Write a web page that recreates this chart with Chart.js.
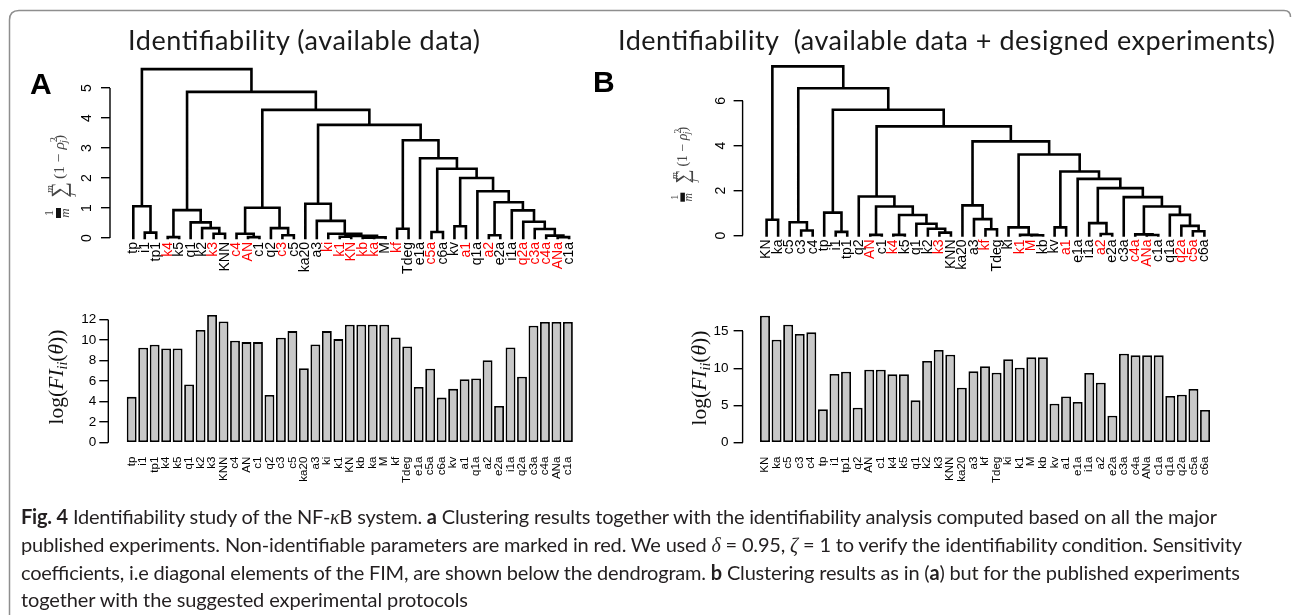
<!DOCTYPE html>
<html><head><meta charset="utf-8"><title>Identifiability study of the NF-κB system</title>
<script src="https://cdn.jsdelivr.net/npm/chart.js@4.4.1/dist/chart.umd.min.js"></script>
<style>
html,body{margin:0;padding:0;background:#fff;}
#page{position:relative;width:1292px;height:615px;overflow:hidden;background:#fff;}
#page canvas{position:absolute;left:0;top:0;width:1292px;height:615px;}
#overlay{position:absolute;left:0;top:0;pointer-events:none;}
</style></head><body>
<div id="page">
<canvas id="dA" width="1292" height="615"></canvas>
<canvas id="dB" width="1292" height="615"></canvas>
<canvas id="bA" width="1292" height="615"></canvas>
<canvas id="bB" width="1292" height="615"></canvas>
<svg id="overlay" width="1292" height="615" xmlns="http://www.w3.org/2000/svg">
<defs>
<g id="ftitle">
<text x="-33" y="-7" font-size="12" text-anchor="middle">1</text>
<rect x="-38" y="-4" width="10" height="5" fill="#111"/>
<text x="-33" y="9" font-size="13" text-anchor="middle" font-style="italic">m</text>
<text x="-9" y="-7" font-size="11" text-anchor="middle" font-style="italic">m</text>
<text x="-10" y="6" font-size="22" text-anchor="middle">∑</text>
<text x="-14" y="14" font-size="11" text-anchor="middle" font-style="italic">j</text>
<text x="1" y="3.5" font-size="15.5">(1 − <tspan font-style="italic">ρ</tspan><tspan font-size="10.5" dy="-6.5">2</tspan><tspan font-size="10.5" font-style="italic" dx="-6" dy="9.5">j</tspan><tspan dy="-3">)</tspan></text>
</g>
</defs>
<path d="M9.5 615 L9.5 20 Q9.5 10.5 19 10.5 L1284 10.5 Q1290.5 10.5 1290.5 17" fill="none" stroke="#8e8e8e" stroke-width="1.5"/>
<g font-family="Lato, 'Open Sans', sans-serif" fill="#1a1a1a">
<text x="128" y="50" font-size="27" textLength="352" lengthAdjust="spacing">Identifiability (available data)</text>
<text x="618" y="50" font-size="27" textLength="657" lengthAdjust="spacing" style="white-space:pre" xml:space="preserve">Identifiability  (available data + designed experiments)</text>
</g>
<g font-family="'Liberation Sans', Arial, sans-serif" font-weight="bold" font-size="30" fill="#000">
<text x="30" y="94">A</text>
<text x="593" y="92">B</text>
</g>
<g font-family="'Liberation Serif', serif" fill="#444">
<use href="#ftitle" transform="translate(60,180) rotate(-90)"/>
<use href="#ftitle" transform="translate(684,167.5) rotate(-90) scale(0.9)"/>
</g>
<g font-family="'Liberation Serif', serif" fill="#111" font-size="21.5">
<text transform="translate(57,377) rotate(-90)" x="0" y="6" text-anchor="middle">log(<tspan font-style="italic">FI</tspan><tspan font-style="italic" font-size="14" dy="4">ii</tspan><tspan dy="-4">(</tspan><tspan font-style="italic">θ</tspan>))</text>
<text transform="translate(700,378) rotate(-90)" x="0" y="6" text-anchor="middle">log(<tspan font-style="italic">FI</tspan><tspan font-style="italic" font-size="14" dy="4">ii</tspan><tspan dy="-4">(</tspan><tspan font-style="italic">θ</tspan>))</text>
</g>
<g font-family="Lato, 'Open Sans', sans-serif" font-size="20" fill="#231f20">
<text x="21" y="524" textLength="1196" lengthAdjust="spacing"><tspan font-weight="bold">Fig. 4</tspan> Identifiability study of the NF-<tspan font-family="'Liberation Serif', serif" font-style="italic">κ</tspan>B system. <tspan font-weight="bold">a</tspan> Clustering results together with the identifiability analysis computed based on all the major</text>
<text x="21" y="552" textLength="1221" lengthAdjust="spacing">published experiments. Non-identifiable parameters are marked in red. We used <tspan font-family="'Liberation Serif', serif" font-style="italic">δ</tspan> = 0.95, <tspan font-family="'Liberation Serif', serif" font-style="italic">ζ</tspan> = 1 to verify the identifiability condition. Sensitivity</text>
<text x="21" y="580" textLength="1219" lengthAdjust="spacing">coefficients, i.e diagonal elements of the FIM, are shown below the dendrogram. <tspan font-weight="bold">b</tspan> Clustering results as in (<tspan font-weight="bold">a</tspan>) but for the published experiments</text>
<text x="21" y="607" textLength="447" lengthAdjust="spacing">together with the suggested experimental protocols</text>
</g>
</svg>
</div>
<script>
// ================= DATA =================
// Panel A – leaf order of the dendrogram (also the bar order below it)
const leavesA = ['tp','i1','tp1','k4','k5','q1','k2','k3','KNN','c4','AN','c1','q2','c3','c5','ka20','a3','ki','k1','KN','kb','ka','M','kf','Tdeg','e1a','c5a','c6a','kv','a1','q1a','a2','e2a','i1a','q2a','c3a','c4a','ANa','c1a'];
// non-identifiable parameters (red labels) in panel A
const redA = ['k4','k3','c4','AN','c3','ki','k1','KN','kb','ka','kf','c5a','a1','a2','q2a','c3a','c4a','ANa'];
// merges: [left, right, height]; strings = leaves, numbers = earlier merge index
const mergesA = [
  ['i1','tp1',0.18], ['tp',0,1.06],
  ['k4','k5',0.03], ['k3','KNN',0.14], ['k2',3,0.33], ['q1',4,0.52], [2,5,0.93],
  ['AN','c1',0.03], ['c4',7,0.14], ['c3','c5',0.09], ['q2',9,0.33], [8,10,1.01],
  ['k1','KN',0.04], ['kb','ka',0.01], [13,'M',0.02], [12,14,0.07], ['ki',15,0.14], ['a3',16,0.57], ['ka20',17,1.14],
  ['kf','Tdeg',0.31], ['c5a','c6a',0.20], ['kv','a1',0.39], ['a2','e2a',0.09],
  ['ANa','c1a',0.03], ['c4a',23,0.08], ['c3a',24,0.30], ['q2a',25,0.54], ['i1a',26,0.92],
  [22,27,1.19], ['q1a',28,1.56], [21,29,2.00], [20,30,2.31], ['e1a',31,2.66], [19,32,3.26],
  [18,33,3.77], [11,34,4.27], [6,35,4.87], [1,36,5.63]
];
const dendroTicksA = [0,1,2,3,4,5];
const fiA = [4.46,9.24,9.53,9.17,9.17,5.66,10.96,12.42,11.80,9.92,9.79,9.79,4.65,10.21,10.86,7.25,9.56,10.86,10.08,11.48,11.48,11.48,11.48,10.24,9.37,5.43,7.19,4.39,5.24,6.18,6.24,8.03,3.58,9.27,6.41,11.38,11.74,11.74,11.74];
const barTicksA = [0,2,4,6,8,10,12];

// Panel B
const leavesB = ['KN','ka','c5','c3','c4','tp','i1','tp1','q2','AN','c1','k4','k5','q1','k2','k3','KNN','ka20','a3','kf','Tdeg','ki','k1','M','kb','kv','a1','e1a','i1a','a2','e2a','c3a','c4a','ANa','c1a','q1a','q2a','c5a','c6a'];
const redB = ['AN','k4','k3','kf','k1','M','a1','a2','c4a','ANa','q2a','c5a'];
const mergesB = [
  ['KN','ka',0.70], ['c3','c4',0.22], ['c5',1,0.59], ['i1','tp1',0.16], ['tp',3,1.02],
  ['AN','c1',0.03], ['k4','k5',0.03], ['k3','KNN',0.13], ['k2',7,0.30], ['q1',8,0.52], [6,9,0.91], [5,10,1.29], ['q2',11,1.74],
  ['kf','Tdeg',0.28], ['a3',13,0.73], ['ka20',14,1.34],
  ['M','kb',0.01], ['k1',16,0.03], ['ki',17,0.36], ['kv','a1',0.36],
  ['a2','e2a',0.07], ['i1a',20,0.55], ['ANa','c1a',0.02], ['c4a',22,0.05],
  ['c5a','c6a',0.19], ['q2a',24,0.43], ['q1a',25,0.92], [23,26,1.29], ['c3a',27,1.71],
  [21,28,2.11], ['e1a',29,2.52], [19,30,2.85], [18,31,3.61], [15,32,4.19], [12,33,4.86],
  [4,34,5.60], [2,35,6.56], [0,36,7.53]
];
const dendroTicksB = [0,2,4,6];
const fiB = [17.06,13.84,15.85,14.60,14.82,4.48,9.22,9.54,4.70,9.81,9.81,9.18,9.18,5.69,10.97,12.45,11.82,7.39,9.58,10.26,9.40,11.20,10.08,11.46,11.46,5.24,6.22,5.46,9.36,8.06,3.63,11.96,11.73,11.73,11.73,6.27,6.45,7.21,4.39];
const barTicksB = [0,5,10,15];

// ================= LAYOUT / STYLE =================
const LAYOUT = {
  dA: {pad:{left:0, top:64, right:711.4, bottom:332}, yW:110, xH:45, xmin:-2.031, xmax:39, ymax:5.8, yPad:10, xPad:4},
  dB: {pad:{left:632.6, top:62.6, right:76.1, bottom:334.5}, yW:110, xH:45, xmin:-2.083, xmax:39, ymax:7.7, yPad:9, xPad:4},
  bA: {pad:{left:0, top:309.1, right:712.6, bottom:127.3}, yW:108.3, xH:45, xmin:-2.038, xmax:39, ymax:13, yPad:3, xPad:14},
  bB: {pad:{left:632.6, top:312.4, right:75.4, bottom:127.3}, yW:110, xH:45, xmin:-1.934, xmax:39, ymax:17.5, yPad:5, xPad:14}
};
const SANS = "'Liberation Sans', Arial, Helvetica, sans-serif";
Chart.defaults.font.family = SANS;
Chart.defaults.color = '#000';

// draws the R-style axis line from the first to the last tick only
const axisLine = {
  id: 'axisLine',
  afterDraw(chart) {
    const s = chart.scales.y, t = s.ticks, ctx = chart.ctx;
    ctx.save();
    ctx.strokeStyle = '#000'; ctx.lineWidth = 1.4;
    ctx.beginPath();
    ctx.moveTo(s.right, s.getPixelForValue(t[0].value));
    ctx.lineTo(s.right, s.getPixelForValue(t[t.length - 1].value));
    ctx.stroke();
    ctx.restore();
  }
};

function treeSegments(leaves, merges) {
  const pos = {}; leaves.forEach((n, i) => pos[n] = i);
  const nodes = [], pts = [];
  const get = r => typeof r === 'number' ? nodes[r] : {x: pos[r], h: 0};
  merges.forEach(([l, r, h]) => {
    const a = get(l), b = get(r);
    pts.push({x:a.x, y:a.h}, {x:a.x, y:h}, {x:b.x, y:h}, {x:b.x, y:b.h}, {x:b.x, y:null});
    nodes.push({x:(a.x + b.x) / 2, h});
  });
  return pts;
}

function xScale(L, labels, colorFn, fontSize) {
  return {
    type:'linear', min:L.xmin, max:L.xmax, offset:false,
    afterBuildTicks: s => { s.ticks = labels.map((_, i) => ({value:i})); },
    afterFit: s => { s.height = L.xH; },
    grid:{display:false, drawTicks:false, offset:false}, border:{display:false},
    ticks:{autoSkip:false, minRotation:90, maxRotation:90, padding:L.xPad,
      font:{family:SANS, size:fontSize}, color: colorFn,
      callback: v => labels[Math.round(v)]}
  };
}
function yScale(L, ticks, rotated) {
  return {
    type:'linear', min:0, max:L.ymax,
    afterBuildTicks: s => { s.ticks = ticks.map(v => ({value:v})); },
    afterFit: s => { s.width = L.yW; },
    grid:{drawOnChartArea:false, drawTicks:true, tickLength:9, color:'#000', lineWidth:1.4},
    border:{display:false},
    ticks: Object.assign({padding:L.yPad, font:{family:SANS, size:rotated ? 14 : 13.5}, color:'#000', callback: v => String(v)},
      rotated ? {minRotation:90, maxRotation:90, crossAlign:'center'} : {})
  };
}
function baseOptions(L, scales) {
  return {
    responsive:false, animation:false, events:[],
    layout:{padding:L.pad},
    plugins:{legend:{display:false}, tooltip:{enabled:false}, title:{display:false}},
    scales
  };
}

function dendro(id, leaves, red, merges, ticks) {
  const L = LAYOUT[id];
  new Chart(document.getElementById(id), {
    type:'line',
    data:{datasets:[{data:treeSegments(leaves, merges), borderColor:'#000', borderWidth:2.6,
      pointRadius:0, pointHoverRadius:0, tension:0, spanGaps:false, fill:false, clip:false,
      borderJoinStyle:'miter', borderCapStyle:'square'}]},
    options: baseOptions(L, {
      x: xScale(L, leaves, ctx => red.includes(leaves[ctx.index]) ? '#ff0000' : '#000', 14),
      y: yScale(L, ticks, true)
    }),
    plugins:[axisLine]
  });
}
function bars(id, labels, values, ticks) {
  const L = LAYOUT[id];
  new Chart(document.getElementById(id), {
    type:'bar',
    data:{datasets:[{data:values.map((v, i) => ({x:i, y:v})), backgroundColor:'#c8c8c8',
      borderColor:'#000', borderWidth:1.8, borderSkipped:false,
      barPercentage:0.86, categoryPercentage:1.0}]},
    options: baseOptions(L, {
      x: xScale(L, labels, '#000', 11.5),
      y: yScale(L, ticks, false)
    }),
    plugins:[axisLine]
  });
}

dendro('dA', leavesA, redA, mergesA, dendroTicksA);
dendro('dB', leavesB, redB, mergesB, dendroTicksB);
bars('bA', leavesA, fiA, barTicksA);
bars('bB', leavesB, fiB, barTicksB);
</script>
</body></html>
